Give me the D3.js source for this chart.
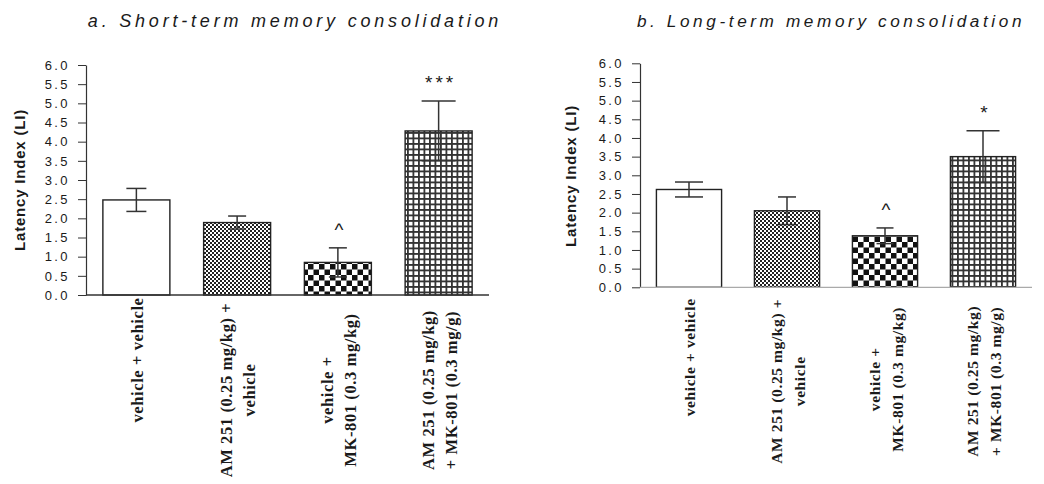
<!DOCTYPE html>
<html>
<head>
<meta charset="utf-8">
<script src="https://cdn.jsdelivr.net/npm/d3@7"></script>
<style>
  html, body { margin: 0; padding: 0; background: #fff; }
  svg { display: block; }
</style>
</head>
<body>
<svg id="chart" width="1044" height="484"></svg>
<script>
// ---------------- DATA ----------------
const categories = [
  ["vehicle + vehicle"],
  ["AM 251 (0.25 mg/kg) +", "vehicle"],
  ["vehicle +", "MK-801 (0.3 mg/kg)"],
  ["AM 251 (0.25 mg/kg)", "+ MK-801 (0.3 mg/g)"]
];
const yTickValues = [0, 0.5, 1, 1.5, 2, 2.5, 3, 3.5, 4, 4.5, 5, 5.5, 6];
const yAxisTitle = "Latency Index (LI)";

const shortTermTitle = "a. Short-term memory consolidation";
const shortTermMeans = [2.48, 1.89, 0.85, 4.28];
const shortTermSEM   = [0.30, 0.17, 0.38, 0.78];
const shortTermMarks = ["", "", "^", "***"];

const longTermTitle = "b. Long-term memory consolidation";
const longTermMeans = [2.62, 2.05, 1.38, 3.50];
const longTermSEM   = [0.20, 0.37, 0.21, 0.69];
const longTermMarks = ["", "", "^", "*"];

// ---------------- STYLE / LAYOUT ----------------
const fills = ["#ffffff", "url(#fineChecker)", "url(#coarseChecker)", "url(#gridPat)"];

const panels = [
  {
    title: shortTermTitle, means: shortTermMeans, sem: shortTermSEM, marks: shortTermMarks,
    x0: 86, x1: 489, yTop: 65, yBottom: 295, titleX: 295, titleY: 27, titleSize: 18, titleLS: 3.8,
    ylabX: 19, ylabY: 180, labelSize: 16.5, lineGap: 23,
    labelCenter: [65, 95, 95, 95], capW: [20, 18, 18, 34], xAxisColor: "#333"
  },
  {
    title: longTermTitle, means: longTermMeans, sem: longTermSEM, marks: longTermMarks,
    x0: 640, x1: 1032, yTop: 63.3, yBottom: 287.3, titleX: 831, titleY: 27, titleSize: 17.2, titleLS: 3.6,
    ylabX: 570, ylabY: 176, labelSize: 15.5, lineGap: 22.5,
    labelCenter: [70, 94, 92, 94], capW: [28, 18, 17, 33], xAxisColor: "#aaa"
  }
];

const svg = d3.select("#chart");

// patterns
const defs = svg.append("defs");
const p1 = defs.append("pattern").attr("id", "fineChecker").attr("patternUnits", "userSpaceOnUse")
  .attr("width", 4).attr("height", 4);
p1.append("rect").attr("width", 4).attr("height", 4).attr("fill", "#fff");
p1.append("rect").attr("x", 0).attr("y", 0).attr("width", 2).attr("height", 2).attr("fill", "#222");
p1.append("rect").attr("x", 2).attr("y", 2).attr("width", 2).attr("height", 2).attr("fill", "#222");

const p2 = defs.append("pattern").attr("id", "coarseChecker").attr("patternUnits", "userSpaceOnUse")
  .attr("width", 11).attr("height", 11);
p2.append("rect").attr("width", 11).attr("height", 11).attr("fill", "#fff");
p2.append("rect").attr("x", 0).attr("y", 0).attr("width", 5.5).attr("height", 5.5).attr("fill", "#111");
p2.append("rect").attr("x", 5.5).attr("y", 5.5).attr("width", 5.5).attr("height", 5.5).attr("fill", "#111");

const p3 = defs.append("pattern").attr("id", "gridPat").attr("patternUnits", "userSpaceOnUse")
  .attr("width", 5.5).attr("height", 5.5);
p3.append("rect").attr("width", 5.5).attr("height", 5.5).attr("fill", "#fff");
p3.append("path").attr("d", "M0.9,0V5.5M0,0.9H5.5").attr("stroke", "#333").attr("stroke-width", 1.8);

panels.forEach(p => {
  const g = svg.append("g");
  const x = d3.scaleBand().domain(d3.range(categories.length))
    .range([p.x0, p.x1]).paddingInner(0.335).paddingOuter(0.1675);
  const y = d3.scaleLinear().domain([0, 6]).range([p.yBottom, p.yTop]);

  // title
  g.append("text")
    .attr("x", p.titleX).attr("y", p.titleY)
    .attr("text-anchor", "middle")
    .attr("font-family", "Liberation Sans, Arial, sans-serif")
    .attr("font-style", "italic")
    .attr("font-size", p.titleSize)
    .attr("letter-spacing", p.titleLS)
    .attr("fill", "#1a1a1a")
    .text(p.title);

  // y axis title
  g.append("text")
    .attr("transform", `translate(${p.ylabX},${p.ylabY}) rotate(-90)`)
    .attr("text-anchor", "middle")
    .attr("dominant-baseline", "central")
    .attr("font-family", "Liberation Sans, Arial, sans-serif")
    .attr("font-weight", "bold")
    .attr("font-size", 15)
    .attr("letter-spacing", 0.8)
    .attr("fill", "#1a1a1a")
    .text(yAxisTitle);

  // bars
  g.selectAll("rect.bar").data(p.means).join("rect")
    .attr("class", "bar")
    .attr("x", (d, i) => x(i))
    .attr("width", x.bandwidth())
    .attr("y", d => y(d))
    .attr("height", d => y(0) - y(d))
    .attr("fill", (d, i) => fills[i])
    .attr("stroke", "#222")
    .attr("stroke-width", 1.4);

  // error bars
  const eb = g.selectAll("g.err").data(p.means).join("g").attr("class", "err")
    .attr("stroke", "#333").attr("stroke-width", 1.5);
  eb.append("line")
    .attr("x1", (d, i) => x(i) + x.bandwidth() / 2)
    .attr("x2", (d, i) => x(i) + x.bandwidth() / 2)
    .attr("y1", (d, i) => y(d - p.sem[i]))
    .attr("y2", (d, i) => y(d + p.sem[i]));
  eb.append("line")
    .attr("x1", (d, i) => x(i) + x.bandwidth() / 2 - p.capW[i] / 2)
    .attr("x2", (d, i) => x(i) + x.bandwidth() / 2 + p.capW[i] / 2)
    .attr("y1", (d, i) => y(d + p.sem[i]))
    .attr("y2", (d, i) => y(d + p.sem[i]));
  eb.append("line")
    .attr("x1", (d, i) => x(i) + x.bandwidth() / 2 - p.capW[i] / 2)
    .attr("x2", (d, i) => x(i) + x.bandwidth() / 2 + p.capW[i] / 2)
    .attr("y1", (d, i) => y(d - p.sem[i]))
    .attr("y2", (d, i) => y(d - p.sem[i]));

  // significance marks
  g.selectAll("text.mark").data(p.means).join("text")
    .attr("class", "mark")
    .attr("x", (d, i) => x(i) + x.bandwidth() / 2 + (p.marks[i].length > 1 ? 2 : 1))
    .attr("y", (d, i) => y(d + p.sem[i]) - 12)
    .attr("text-anchor", "middle")
    .attr("font-family", "Liberation Sans, Arial, sans-serif")
    .attr("font-size", 19)
    .attr("letter-spacing", (d, i) => p.marks[i].length > 1 ? 3 : 0)
    .attr("fill", "#1a1a1a")
    .text((d, i) => p.marks[i]);

  // y axis
  const yAxis = d3.axisLeft(y).tickValues(yTickValues)
    .tickFormat(d3.format(".1f")).tickSize(8).tickSizeOuter(0).tickPadding(8);
  const ya = g.append("g").attr("transform", `translate(${p.x0},0)`).call(yAxis);
  ya.select(".domain").attr("stroke", "#333").attr("stroke-width", 1.2);
  ya.selectAll(".tick line").attr("stroke", "#333").attr("stroke-width", 1);
  ya.selectAll(".tick text")
    .attr("font-family", "Liberation Sans, Arial, sans-serif")
    .attr("font-size", 13)
    .attr("letter-spacing", 2.4)
    .attr("fill", "#1a1a1a");

  // x axis line
  const xAxis = d3.axisBottom(x).tickSize(0).tickSizeOuter(0).tickFormat("");
  const xa = g.append("g").attr("transform", `translate(0,${p.yBottom})`).call(xAxis);
  xa.select(".domain").attr("stroke", p.xAxisColor).attr("stroke-width", 1.3)
    .attr("d", `M${p.x0},0H${p.x1}`);

  // category labels (rotated, multi-line)
  categories.forEach((lines, i) => {
    const cx = x(i) + x.bandwidth() / 2 + 1.5;
    const cy = p.yBottom + p.labelCenter[i];
    const n = lines.length;
    lines.forEach((ln, j) => {
      const lx = cx + (j - (n - 1) / 2) * p.lineGap;
      g.append("text")
        .attr("transform", `translate(${lx},${cy}) rotate(-90)`)
        .attr("text-anchor", "middle")
        .attr("dy", "0.32em")
        .attr("font-family", "Liberation Serif, Times New Roman, serif")
        .attr("font-weight", "bold")
        .attr("font-size", p.labelSize)
        .attr("letter-spacing", 0.6)
        .attr("fill", "#1a1a1a")
        .text(ln);
    });
  });
});
</script>
</body>
</html>
